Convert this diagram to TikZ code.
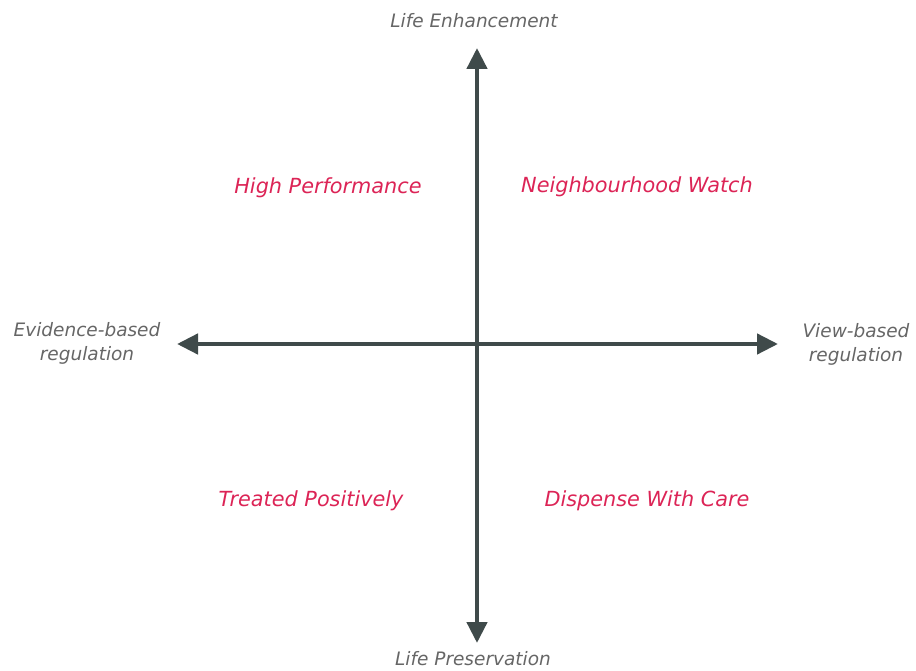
\documentclass[tikz,border=0pt]{standalone}
\usepackage{fontspec}
\setmainfont{DejaVu Sans}
\usetikzlibrary{arrows.meta}
\definecolor{axisgrey}{HTML}{3F4A4A}
\definecolor{labgrey}{HTML}{666666}
\definecolor{quadred}{HTML}{DC2456}
\begin{document}
\begin{tikzpicture}[x=1pt,y=-1pt,
  axis/.style={line width=4.5pt,draw=axisgrey,-{Triangle[length=21pt,width=20pt]},shorten >=0pt},
  axislab/.style={text=labgrey,font=\fontsize{18.5}{24}\selectfont\itshape,align=center,inner sep=0pt},
  quad/.style={text=quadred,font=\fontsize{20.8}{24}\selectfont\itshape,inner sep=0pt}]
\useasboundingbox (0,0) rectangle (916,671);
\coordinate (c) at (477,344);
\coordinate (top) at (477,48);
\coordinate (bot) at (477,643);
\coordinate (left) at (177,344);
\coordinate (right) at (778,344);
\draw[axis] (c) -- (top);
\draw[axis] (c) -- (bot);
\draw[axis] (c) -- (left);
\draw[axis] (c) -- (right);
\node[axislab] (le) at (474,21) {Life Enhancement};
\node[axislab] (lp) at (473,659) {Life Preservation};
\node[axislab] (eb) at (87,343) {Evidence-based\\regulation};
\node[axislab] (vb) at (856,344) {View-based\\regulation};
\node[quad] (hp) at (328,188) {High Performance};
\node[quad] (nw) at (637,187) {Neighbourhood Watch};
\node[quad] (tp) at (311,501) {Treated Positively};
\node[quad] (dc) at (647,501) {Dispense With Care};
\end{tikzpicture}
\end{document}
